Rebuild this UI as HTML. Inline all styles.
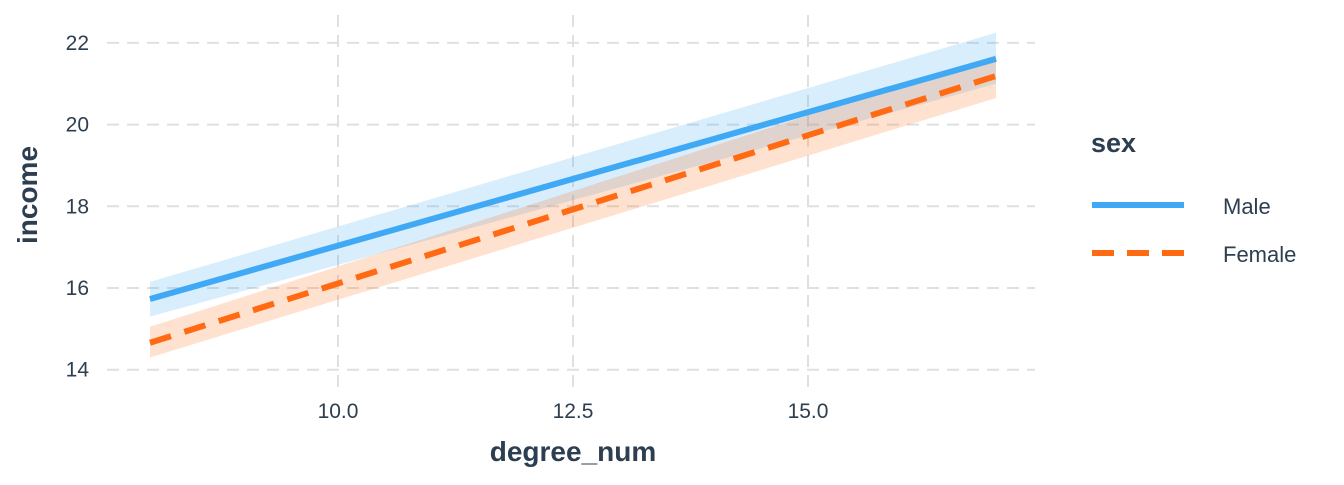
<!DOCTYPE html>
<html><head><meta charset="utf-8"><style>
body{margin:0;background:#fff;font-family:"Liberation Sans",sans-serif;}
svg text{font-family:"Liberation Sans",sans-serif;}
</style></head><body>
<svg id="chart" width="1344" height="480" xmlns="http://www.w3.org/2000/svg"></svg>
<script>
const xTicks=[10.0,12.5,15.0];
const xTickLabels=["10.0","12.5","15.0"];
const yTicks=[14,16,18,20,22];
const yTickLabels=["14","16","18","20","22"];
const xEnds=[8,17];
const maleFit=[15.73,21.61];
const maleLo=[15.3,21.0];
const maleHi=[16.15,22.25];
const femaleFit=[14.66,21.19];
const femaleLo=[14.3,20.65];
const femaleHi=[15.05,21.7];

const NS="http://www.w3.org/2000/svg";
const svg=document.getElementById('chart');
const X=v=>338+(v-10)*94;
const Y=v=>288-(v-16)*40.85;
function mk(t,a,txt){const e=document.createElementNS(NS,t);for(const k in a)e.setAttribute(k,a[k]);if(txt!==undefined)e.textContent=txt;svg.appendChild(e);return e;}
yTicks.forEach((v,i)=>{
 const l=mk('line',{x1:107,x2:1035,y1:Y(v),y2:Y(v),stroke:'#e0e0e0','stroke-width':2,'stroke-dasharray':'12,8'});
 
 
 const t=mk('text',{x:89,y:Y(v)+7,'text-anchor':'end','font-size':21,fill:'#2c3e50'},yTickLabels[i]);
 
 
});
xTicks.forEach((v,i)=>{
 const l=mk('line',{x1:X(v),x2:X(v),y1:15,y2:392,stroke:'#e0e0e0','stroke-width':2,'stroke-dasharray':'12,8'});
 
 
 const t=mk('text',{x:X(v),y:418,'text-anchor':'middle','font-size':21,fill:'#2c3e50'},xTickLabels[i]);
 
 
});
function band(lo,hi,col,name){
 const p=`M${X(xEnds[0])},${Y(lo[0])} L${X(xEnds[1])},${Y(lo[1])} L${X(xEnds[1])},${Y(hi[1])} L${X(xEnds[0])},${Y(hi[0])}Z`;
 const e=mk('path',{d:p,fill:col,'fill-opacity':0.2});
 
 
}
band(maleLo,maleHi,'#3fa9f5','male-ci-band');
band(femaleLo,femaleHi,'#ff6a13','female-ci-band');
const f=mk('line',{x1:X(xEnds[0]),y1:Y(femaleFit[0]),x2:X(xEnds[1]),y2:Y(femaleFit[1]),stroke:'#ff6a13','stroke-width':6,'stroke-dasharray':'22,14'});


const m=mk('line',{x1:X(xEnds[0]),y1:Y(maleFit[0]),x2:X(xEnds[1]),y2:Y(maleFit[1]),stroke:'#3fa9f5','stroke-width':6});


const xt=mk('text',{x:573,y:461,'text-anchor':'middle','font-size':28,'font-weight':'bold',fill:'#2c3e50'},'degree_num');


const yt=mk('text',{x:0,y:0,transform:'translate(37,195) rotate(-90)','text-anchor':'middle','font-size':28,'font-weight':'bold',fill:'#2c3e50'},'income');


const lt=mk('text',{x:1091,y:152,'font-size':27,'font-weight':'bold',fill:'#2c3e50'},'sex');


const l1=mk('line',{x1:1092,x2:1184,y1:205,y2:205,stroke:'#3fa9f5','stroke-width':6});


const t1=mk('text',{x:1223,y:214,'font-size':22,fill:'#2c3e50'},'Male');


const l2=mk('line',{x1:1092,x2:1184,y1:253,y2:253,stroke:'#ff6a13','stroke-width':6,'stroke-dasharray':'22,13'});


const t2=mk('text',{x:1223,y:262,'font-size':22,fill:'#2c3e50'},'Female');


</script>
</body></html>
